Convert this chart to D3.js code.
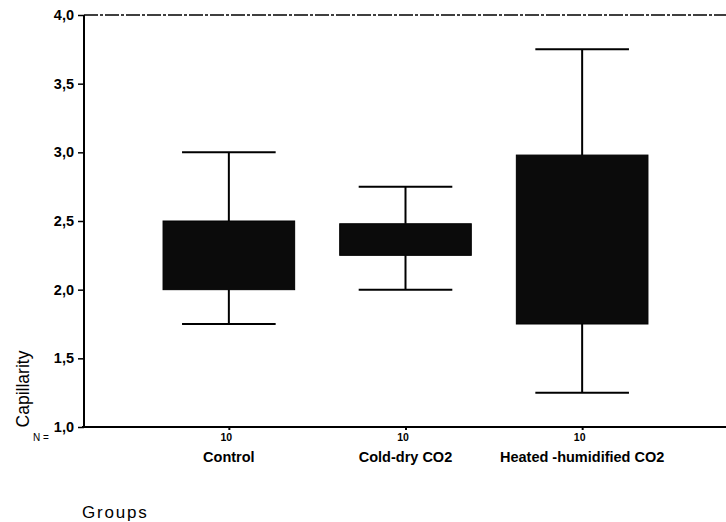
<!DOCTYPE html>
<html><head><meta charset="utf-8">
<script src="https://cdn.jsdelivr.net/npm/d3@7"></script>
<style>body{margin:0;background:#fff}svg{display:block}</style>
</head><body>
<svg id="c" width="726" height="522"></svg>
<script>
const categories = ["Control", "Cold-dry CO2", "Heated -humidified CO2"];
const nValues = [10, 10, 10];
const whiskerLow = [1.75, 2.0, 1.25];
const q1 = [2.0, 2.25, 1.75];
const q3 = [2.5, 2.48, 2.98];
const whiskerHigh = [3.0, 2.75, 3.75];
const yTicks = [1.0, 1.5, 2.0, 2.5, 3.0, 3.5, 4.0];

(function () {
const svg = d3.select("#c");
const FONT = "Liberation Sans, Arial, sans-serif";
const mL = 84, mR = 727, mT = 15, mB = 427;
const y = d3.scaleLinear().domain([1, 4]).range([mB, mT]);
const x = d3.scalePoint().domain(categories).range([mL, mR]).padding(0.82);
const step = x.step();
const boxW = step * 0.745, capW = step * 0.53;
const fmt = d => d3.format(".1f")(d).replace(".", ",");

// y axis
const ya = svg.append("g").attr("transform", `translate(${mL},0)`)
  .call(d3.axisLeft(y).tickValues(yTicks).tickFormat(fmt).tickSize(6).tickPadding(4));
ya.select(".domain").attr("stroke-width", 2).attr("d", `M0,${mT}V${mB}`);
ya.selectAll(".tick line").attr("stroke-width", 1.5);
ya.selectAll("text").attr("font-family", FONT)
  .attr("font-size", 14.5).attr("font-weight", "bold").attr("fill", "#000");

// top frame (dashed)
svg.append("line").attr("x1", mL).attr("x2", 726).attr("y1", y(4)).attr("y2", y(4))
  .attr("stroke", "#000").attr("stroke-width", 1.5).attr("stroke-dasharray", "14,2,3,2");

// x axis
const xa = svg.append("g").attr("transform", `translate(0,${mB})`)
  .call(d3.axisBottom(x).tickSize(3).tickFormat((d, i) => nValues[i]).tickPadding(4));
xa.select(".domain").attr("stroke-width", 2).attr("d", `M${mL - 2},0H726`);
xa.selectAll(".tick line").attr("stroke-width", 2);
xa.selectAll("text").attr("font-family", FONT).attr("font-weight", "bold")
  .attr("font-size", 10.5).attr("fill", "#000").attr("dx", -3);

svg.append("g").selectAll("text").data(categories).join("text")
  .attr("x", d => x(d)).attr("y", 462).attr("text-anchor", "middle")
  .attr("font-family", FONT).attr("font-size", 14.5)
  .attr("font-weight", "bold").text(d => d);

svg.append("text").attr("x", 33).attr("y", 441).attr("font-family", FONT)
  .attr("font-size", 10).text("N =");

// boxes
const g = svg.append("g");
categories.forEach((c, i) => {
  const cx = x(c);
  g.append("line").attr("x1", cx).attr("x2", cx).attr("y1", y(whiskerHigh[i])).attr("y2", y(q3[i]))
    .attr("stroke", "#000").attr("stroke-width", 2);
  g.append("line").attr("x1", cx).attr("x2", cx).attr("y1", y(q1[i])).attr("y2", y(whiskerLow[i]))
    .attr("stroke", "#000").attr("stroke-width", 2);
  [whiskerHigh[i], whiskerLow[i]].forEach(v => {
    g.append("line").attr("x1", cx - capW / 2).attr("x2", cx + capW / 2).attr("y1", y(v)).attr("y2", y(v))
      .attr("stroke", "#000").attr("stroke-width", 2);
  });
  g.append("rect").attr("x", cx - boxW / 2).attr("width", boxW)
    .attr("y", y(q3[i])).attr("height", y(q1[i]) - y(q3[i]))
    .attr("fill", "#0b0b0b").attr("stroke", "#000").attr("stroke-width", 1);
});

// axis titles
svg.append("text").attr("transform", "translate(29,389) rotate(-90)").attr("text-anchor", "middle")
  .attr("font-family", FONT).attr("font-size", 17.5).text("Capillarity");
svg.append("text").attr("x", 82).attr("y", 518).attr("letter-spacing", 1.8)
  .attr("font-family", FONT).attr("font-size", 17).text("Groups");
})();
</script>
</body></html>
